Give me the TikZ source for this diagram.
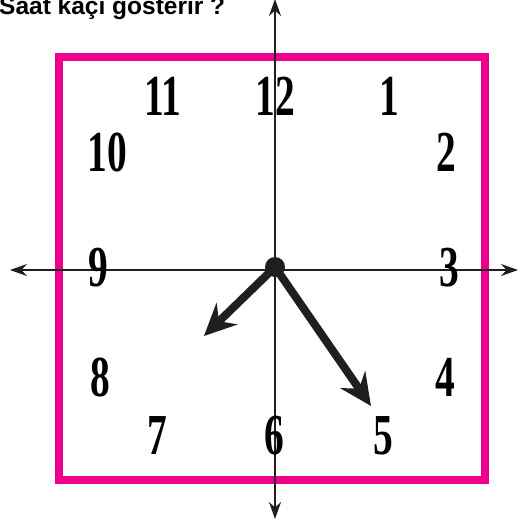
\documentclass[tikz,border=0pt]{standalone}
\usepackage{fontspec}
\usepackage{graphicx}
\setmainfont{Liberation Serif}
\newfontfamily\titlefont{Liberation Sans}
\usetikzlibrary{arrows.meta}
\definecolor{clockpink}{HTML}{EC008C}
\colorlet{handcolor}{black!88}

\begin{document}
\begin{tikzpicture}[>=Stealth, x=1pt, y=-1pt]

  % Frame 520 by 525, in pixel units, y running down.
  \useasboundingbox (0,0) rectangle (520,525);

  \node[font=\titlefont\bfseries\fontsize{24.5}{25}\selectfont, anchor=base west, inner sep=0pt]
    (title) at (-1,14) {Saat kaçı gösterir ?};

  % The dial border.
  \draw[clockpink, line width=8pt] (59,57) rectangle (485,480);

  % Axes through the centre.
  \coordinate (axL) at (10,270);
  \coordinate (axR) at (518,270);
  \coordinate (axT) at (275,-1);
  \coordinate (axB) at (275,519);
  \draw[handcolor, line width=1.8pt, {Stealth[length=17pt, width=12pt]}-{Stealth[length=17pt, width=12pt]}] (axL) -- (axR);
  \draw[handcolor, line width=1.8pt, {Stealth[length=17pt, width=12pt]}-{Stealth[length=17pt, width=12pt]}] (axT) -- (axB);

  % Hour numbers, squeezed to look like a condensed dial face.
  \foreach \n/\x/\y in {12/275/96, 1/389/96, 2/446/152, 3/449/268, 4/445/377,
      5/383/436, 6/274/436, 7/157/436, 8/100/377, 9/98/268, 10/107/152, 11/163/96} {
    \node[inner sep=0pt, font=\bfseries\fontsize{58}{58}\selectfont] (num\n) at (\x,\y)
      {\scalebox{0.68}[1]{\n}};
  }

  % The hands, from the hub.
  \node[circle, fill=handcolor, minimum size=20pt, inner sep=0pt] (hub) at (275,267) {};
  \coordinate (hourtip) at (204,336);
  \coordinate (mintip) at (371,406);
  \draw[handcolor, line width=8pt, -{Stealth[length=32pt, width=30pt, inset=11pt]}] (hub.center) -- (hourtip);
  \draw[handcolor, line width=8pt, -{Stealth[length=32pt, width=30pt, inset=11pt]}] (hub.center) -- (mintip);

\end{tikzpicture}
\end{document}
